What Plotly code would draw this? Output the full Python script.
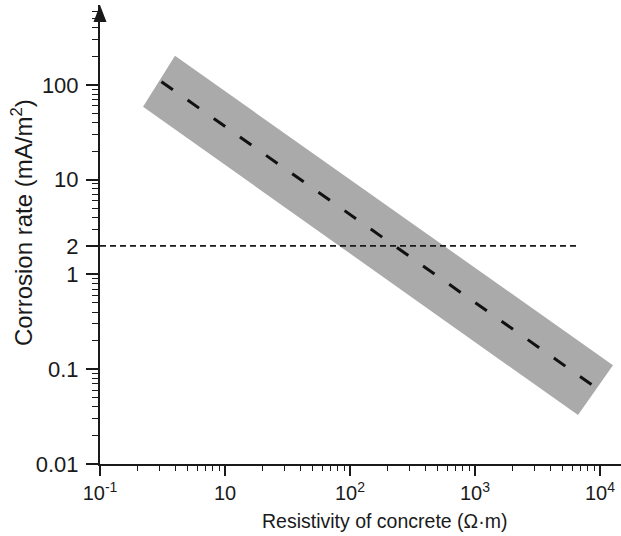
import plotly.graph_objects as go

# ---- data ----
band_x = [2.21, 3.98, 12700, 6670]          # resistivity (Ohm*m), band corners
band_y = [58.6, 202, 0.110, 0.0328]         # corrosion rate (mA/m2)
trend_x = [3.1, 9100]
trend_y = [108, 0.065]
threshold_x = [1, 6800]
threshold_y = [2, 2]

x_tickvals = [1, 10, 100, 1000, 10000]
x_ticktext = ["10<sup>-1</sup>", "10", "10<sup>2</sup>", "10<sup>3</sup>", "10<sup>4</sup>"]
y_tickvals = [0.01, 0.1, 1, 2, 10, 100]
y_ticktext = ["0.01", "0.1", "1", "2", "10", "100"]

x_title = "Resistivity of concrete (Ω·m)"
y_title = "Corrosion rate (mA/m<sup>2</sup>)"

FONT = "Liberation Sans, Arial, sans-serif"
INK = "#1a1a1a"

x_minor = [m * 10 ** d for d in range(0, 5) for m in range(2, 10)]
y_minor = [m * 10 ** d for d in range(-2, 3) for m in range(2, 10)]

fig = go.Figure()
fig.add_trace(go.Scatter(
    x=band_x + [band_x[0]], y=band_y + [band_y[0]],
    fill="toself", fillcolor="#aaaaaa", mode="lines",
    line=dict(width=0, color="#aaaaaa"), hoverinfo="skip", showlegend=False))
fig.add_trace(go.Scatter(
    x=threshold_x, y=threshold_y, mode="lines",
    line=dict(color=INK, width=1.6, dash="6px,4px"), showlegend=False))
fig.add_trace(go.Scatter(
    x=trend_x, y=trend_y, mode="lines",
    line=dict(color="#111111", width=3, dash="14px,18px"), showlegend=False))

fig.update_layout(
    width=621, height=536,
    margin=dict(l=100, r=0, t=5, b=72),
    paper_bgcolor="white", plot_bgcolor="white",
    font=dict(family=FONT, color=INK, size=20),
    showlegend=False,
    xaxis=dict(
        type="log", range=[0, 4.168], showgrid=False, zeroline=False,
        showline=True, linecolor=INK, linewidth=2,
        tickmode="array", tickvals=x_tickvals, ticktext=x_ticktext,
        ticks="outside", ticklen=10, tickwidth=1.5, tickcolor=INK,
        tickfont=dict(size=20, family=FONT, color=INK),
        minor=dict(tickmode="array", tickvals=x_minor, ticks="outside",
                   ticklen=5, tickwidth=1.2, tickcolor=INK, showgrid=False),
    ),
    yaxis=dict(
        type="log", range=[-2, 2.842], showgrid=False, zeroline=False,
        showline=True, linecolor=INK, linewidth=2,
        tickmode="array", tickvals=y_tickvals, ticktext=y_ticktext,
        ticks="outside", ticklen=12, tickwidth=1.5, tickcolor=INK,
        ticklabelstandoff=3,
        tickfont=dict(size=22, family=FONT, color=INK),
        minor=dict(tickmode="array", tickvals=y_minor, ticks="outside",
                   ticklen=6, tickwidth=1.2, tickcolor=INK, showgrid=False),
    ),
    annotations=[
        dict(text=x_title, xref="paper", yref="paper", x=(384 - 100) / 521, y=-(521 - 464) / 459,
             showarrow=False, xanchor="center", yanchor="middle",
             font=dict(size=19.5, family=FONT, color=INK)),
        dict(text=y_title, xref="paper", yref="paper", x=-(100 - 22) / 521, y=(464 - 223) / 459,
             showarrow=False, xanchor="center", yanchor="middle", textangle=-90,
             font=dict(size=24, family=FONT, color=INK)),
    ],
    shapes=[
        dict(type="path", xref="paper", yref="paper",
             xsizemode="pixel", ysizemode="pixel", xanchor=0, yanchor=1,
             path="M -6.5,-17 L 6.5,-17 L 0,0 Z",
             fillcolor=INK, line=dict(width=0)),
    ],
)

fig.write_html("out.html", config={"displayModeBar": False},
               post_script="document.body.style.margin='0';")
